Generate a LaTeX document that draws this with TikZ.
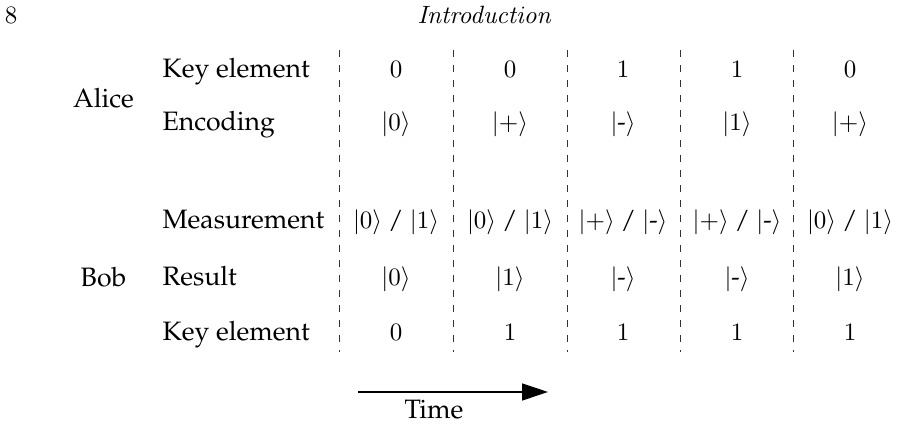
\documentclass[tikz,border=0pt]{standalone}
\IfFileExists{t1ppl.fd}{%
  \usepackage[T1]{fontenc}%
  \renewcommand{\rmdefault}{ppl}%
}{%
  \usepackage{fontspec}%
  \setmainfont{Liberation Serif}%
}
\usetikzlibrary{arrows.meta}

% ket helpers
\newcommand{\qket}[1]{$|#1\rangle$}
\newcommand{\qketminus}{$|$-$\rangle$}

\begin{document}
\begin{tikzpicture}[x=0.4pt,y=-0.4pt,
  txt/.style={inner sep=0pt,font=\fontsize{10.65}{12.8}\selectfont},
  rowlabel/.style={txt,anchor=base west},
  who/.style={txt,anchor=base},
  cell/.style={inner sep=0pt,anchor=base,font=\fontsize{10}{12}\selectfont},
  sep/.style={draw=black!80,line width=0.4pt,dash pattern=on 3pt off 3pt},
  timearrow/.style={draw,line width=0.55pt,-{Triangle[length=10.4pt,width=6.8pt]}}]
\useasboundingbox (0,0) rectangle (902,424);

% running head
\node[cell] (pagenum) at (11,24) {$8$};
\node[cell,anchor=base west] (header) at (417,24) {$\mathit{Introduction}$};

% parties and row labels
\node[who] (alice) at (103.5,108) {Alice};
\node[who] (bob) at (103.5,287) {Bob};
\node[rowlabel] (akey) at (162,77.5) {Key element};
\node[rowlabel] (aenc) at (162,131) {Encoding};
\node[rowlabel] (bmeas) at (162,229) {Measurement};
\node[rowlabel] (bres) at (162,286) {Result};
\node[rowlabel] (bkey) at (162,341) {Key element};

% column separators
\foreach \x [count=\i] in {339,453,567,680,793} {
  \coordinate (top\i) at (\x,50);
  \coordinate (bot\i) at (\x,352);
  \draw[sep] (top\i) -- (bot\i);
}

% Alice: key bits and encoded states
\foreach \x/\v [count=\i] in {396/0,510/0,623/1,737/1,850/0}
  \node[cell] (ak\i) at (\x,77.5) {$\v$};
\node[cell] (ae1) at (396,131) {\qket{0}};
\node[cell] (ae2) at (510,131) {\qket{+}};
\node[cell] (ae3) at (623,131) {\qketminus};
\node[cell] (ae4) at (737,131) {\qket{1}};
\node[cell] (ae5) at (850,131) {\qket{+}};

% Bob: measurement bases
\node[cell] (bm1) at (396,229) {\qket{0} / \qket{1}};
\node[cell] (bm2) at (510,229) {\qket{0} / \qket{1}};
\node[cell] (bm3) at (623,229) {\qket{+} / \qketminus};
\node[cell] (bm4) at (737,229) {\qket{+} / \qketminus};
\node[cell] (bm5) at (850,229) {\qket{0} / \qket{1}};

% Bob: results
\node[cell] (br1) at (396,286) {\qket{0}};
\node[cell] (br2) at (510,286) {\qket{1}};
\node[cell] (br3) at (623,286) {\qketminus};
\node[cell] (br4) at (737,286) {\qketminus};
\node[cell] (br5) at (850,286) {\qket{1}};

% Bob: key bits
\foreach \x/\v [count=\i] in {396/0,510/1,623/1,737/1,850/1}
  \node[cell] (bk\i) at (\x,341) {$\v$};

% time axis
\coordinate (tstart) at (358,392);
\coordinate (tend) at (548,392);
\draw[timearrow] (tstart) -- (tend);
\node[txt,anchor=base] (time) at (434,419) {Time};
\end{tikzpicture}
\end{document}
